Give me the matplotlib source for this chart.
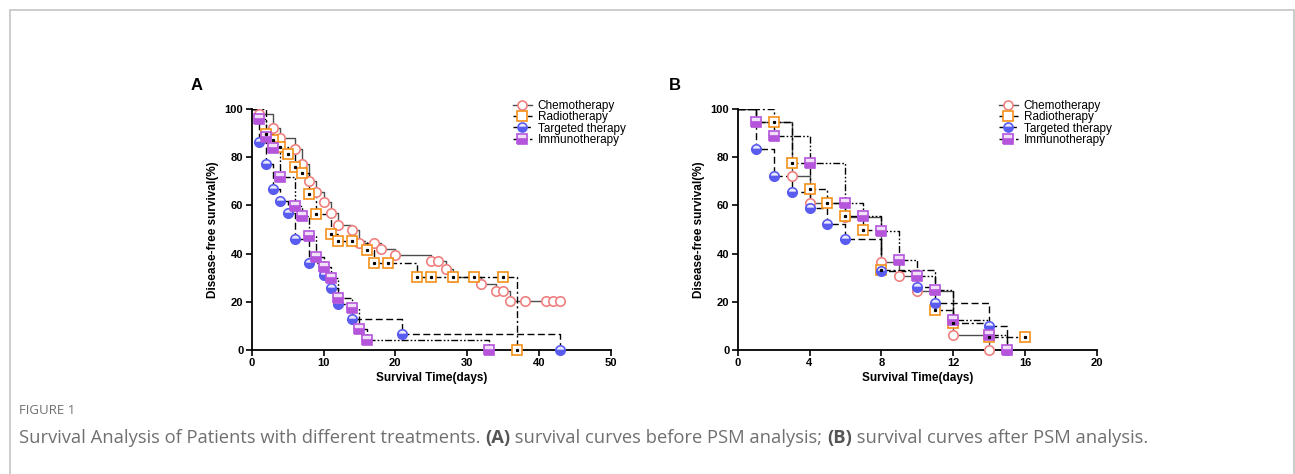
import numpy as np
import matplotlib
matplotlib.use("Agg")
import matplotlib.pyplot as plt
from matplotlib.patches import Rectangle
from matplotlib.lines import Line2D

# panel A: before PSM
a_chemo_t = [0, 1, 3, 4, 6, 7, 8, 9, 10, 11, 12, 14, 15, 17, 18, 20, 25, 26, 27, 28, 32, 34, 35, 36, 38, 41, 42, 43]
a_chemo_s = [100, 98, 92, 88, 83.5, 77, 70, 65.7, 61.4, 57, 52, 49.8, 44.4, 44.4, 41.9, 39.4, 36.9, 36.9, 33.6, 30.4, 27.5, 24.5, 24.5, 20.3, 20.3, 20.3, 20.3, 20.3]
a_radio_t = [0, 2, 3, 4, 5, 6, 7, 8, 9, 11, 12, 14, 16, 17, 19, 23, 25, 28, 31, 35, 37]
a_radio_s = [100, 89.6, 87.1, 84.4, 81.3, 76.1, 73.3, 64.7, 56.4, 48.0, 45.2, 45.2, 41.4, 36.2, 36.2, 30.2, 30.2, 30.2, 30.2, 30.2, 0]
a_target_t = [0, 1, 2, 3, 4, 5, 6, 8, 10, 11, 12, 14, 21, 43]
a_target_s = [100, 86.4, 77.2, 66.8, 61.8, 56.8, 46.2, 36.0, 31.0, 25.8, 19.1, 12.8, 6.5, 0]
a_immuno_t = [0, 1, 2, 3, 4, 6, 7, 8, 9, 10, 11, 12, 14, 15, 16, 33]
a_immuno_s = [100, 95.7, 88.2, 83.7, 71.9, 59.9, 55.7, 47.1, 38.7, 34.3, 29.9, 21.5, 17.4, 8.6, 4.1, 0]

# panel B: after PSM
b_chemo_t = [0, 1, 3, 4, 6, 8, 9, 10, 12, 14]
b_chemo_s = [100, 94.4, 72.2, 61.1, 55.2, 36.7, 30.6, 24.4, 6.2, 0]
b_radio_t = [0, 2, 3, 4, 5, 6, 7, 8, 11, 12, 14, 16]
b_radio_s = [100, 94.4, 77.7, 66.6, 61.1, 55.6, 50.0, 33.3, 16.7, 11.1, 5.6, 5.6]
b_target_t = [0, 1, 2, 3, 4, 5, 6, 8, 10, 11, 14, 15]
b_target_s = [100, 83.2, 72.0, 65.5, 58.9, 52.3, 45.9, 32.7, 26.1, 19.6, 9.8, 0]
b_immuno_t = [0, 1, 2, 4, 6, 7, 8, 9, 10, 11, 12, 14, 15]
b_immuno_s = [100, 94.4, 88.8, 77.6, 61.0, 55.4, 49.2, 37.2, 30.8, 25.0, 12.4, 6.1, 0]

labels = ["Chemotherapy", "Radiotherapy", "Targeted therapy", "Immunotherapy"]

styles = [
    dict(color="#4d4d4d", ls="-", marker="o", mec="#f08080", mfc="white", mfcalt="white", fill="full"),
    dict(color="black", ls=(0, (5, 2, 1.5, 2)), marker="s", mec="#f39019", mfc="white", mfcalt="white", fill="full"),
    dict(color="black", ls=(0, (5, 2.5)), marker="o", mec="#5a5cf0", mfc="#5a5cf0", mfcalt="#e8e8ff", fill="bottom"),
    dict(color="black", ls=(0, (5, 1.5, 1.2, 1.5, 1.2, 1.5)), marker="s", mec="#b455dc", mfc="#b455dc", mfcalt="#f0e0f8", fill="bottom"),
]

W, H = 1295, 474
fig = plt.figure(figsize=(W / 100, H / 100), dpi=100)
fig.patches.append(Rectangle((10 / W, -0.05), 1284 / W, (H - 10) / H + 0.05, transform=fig.transFigure,
                             fill=False, ec="#c8c8c8", lw=1.3))

tick_font = dict(family=["Liberation Sans", "DejaVu Sans"], weight="bold", size=8)
lab_font = dict(family=["Liberation Sans Narrow", "Liberation Sans", "DejaVu Sans"], weight="bold", size=8.5)


def draw_panel(left, data, xmax, xstep, letter, letter_x, leg_x):
    ax = fig.add_axes([left / W, (H - 350) / H, 359 / W, 241 / H])
    for (t, s), st in zip(data, styles):
        ax.plot(t, s, drawstyle="steps-post", color=st["color"], ls=st["ls"], lw=1.0, zorder=2)
        ax.plot(t[1:], s[1:], ls="none", marker=st["marker"], ms=6.8, mec=st["mec"], mew=1.2,
                mfc=st["mfc"], mfcalt=st["mfcalt"], fillstyle=st["fill"], zorder=3, clip_on=False)
        if st["marker"] == "s" and st["fill"] == "full":
            ax.plot(t[1:], s[1:], ls="none", marker="s", ms=1.3, color="black", zorder=4, clip_on=False)
    ax.set_xlim(0, xmax)
    ax.set_ylim(0, 100)
    ax.set_xticks(np.arange(0, xmax + 1, xstep))
    ax.set_yticks(np.arange(0, 101, 20))
    for sp in ["top", "right"]:
        ax.spines[sp].set_visible(False)
    for sp in ["left", "bottom"]:
        ax.spines[sp].set_linewidth(1.3)
    ax.tick_params(direction="out", length=4, width=1.2, pad=2)
    for lab in ax.get_xticklabels() + ax.get_yticklabels():
        lab.set_fontproperties(matplotlib.font_manager.FontProperties(**tick_font))
    ax.set_xlabel("Survival Time(days)", labelpad=3, **lab_font)
    ax.set_ylabel("Disease-free survival(%)", labelpad=4, **lab_font)
    fig.text(letter_x / W, (H - 86) / H, letter, fontsize=12, weight="bold",
             family=["Liberation Sans", "DejaVu Sans"], va="center", ha="left")
    handles = []
    for st in styles:
        handles.append(Line2D([], [], color=st["color"], ls=st["ls"], lw=1.0, marker=st["marker"], ms=6.5,
                              mec=st["mec"], mew=1.2, mfc=st["mfc"], mfcalt=st["mfcalt"], fillstyle=st["fill"]))
    fig.legend(handles, labels, loc="upper left", bbox_to_anchor=(leg_x / W, (H - 95) / H),
               frameon=False, handlelength=1.6, handletextpad=0.5, labelspacing=-0.05,
               borderaxespad=0, prop=dict(family=["Liberation Sans", "DejaVu Sans"], size=8.5))
    return ax


draw_panel(251.7, [(a_chemo_t, a_chemo_s), (a_radio_t, a_radio_s), (a_target_t, a_target_s),
                   (a_immuno_t, a_immuno_s)], 50, 10, "A", 191, 508)
draw_panel(737.7, [(b_chemo_t, b_chemo_s), (b_radio_t, b_radio_s), (b_target_t, b_target_s),
                   (b_immuno_t, b_immuno_s)], 20, 4, "B", 669, 994)

cap_family = ["Open Sans", "DejaVu Sans"]
fig.text(19 / W, (H - 411) / H, "FIGURE 1", fontsize=9.5, color="#707070", family=cap_family, va="center")

pieces = [("Survival Analysis of Patients with different treatments. ", "normal", "#707070"),
          ("(A)", "bold", "#555555"),
          (" survival curves before PSM analysis; ", "normal", "#707070"),
          ("(B)", "bold", "#555555"),
          (" survival curves after PSM analysis.", "normal", "#707070")]
renderer = fig.canvas.get_renderer()
x = 19
for txt, wt, col in pieces:
    t = fig.text(x / W, (H - 438) / H, txt, fontsize=13.2, weight=wt, color=col, family=cap_family, va="center")
    bb = t.get_window_extent(renderer=renderer)
    x += bb.width

fig.savefig("out.png", dpi=100)
